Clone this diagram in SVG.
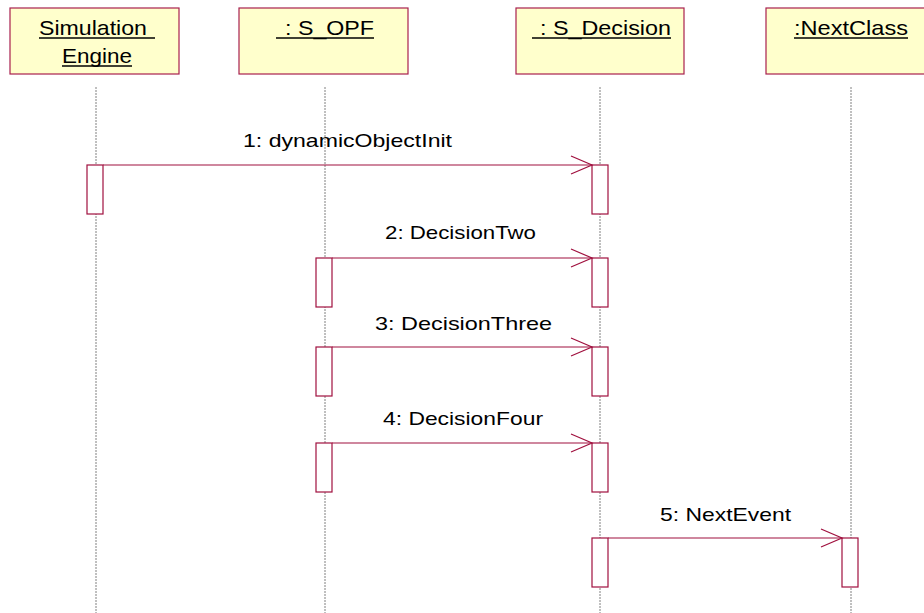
<svg xmlns="http://www.w3.org/2000/svg" width="924" height="613" viewBox="0 0 924 613">
<style>
.obj{fill:#FFFFCC;stroke:#A8204E;stroke-width:1.2}
.t{font-family:"Liberation Sans",Arial,sans-serif;font-size:19px;fill:#000}
.h{font-size:21px}
.ul{stroke:#000;stroke-width:1.5}
.life{stroke:#808080;stroke-width:1;stroke-dasharray:2,1}
.act{fill:#fff;stroke:#A0103E;stroke-width:1.2}
.msg{stroke:#A0103E;stroke-width:1.2;fill:none}
</style>
<rect width="924" height="613" fill="#fff"/>
<g id="lifelines">
<line class="life" x1="96" y1="87" x2="96" y2="613"/>
<line class="life" x1="325" y1="87" x2="325" y2="613"/>
<line class="life" x1="600" y1="87" x2="600" y2="613"/>
<line class="life" x1="851" y1="87" x2="851" y2="613"/>
</g>
<g id="node-simulation-engine">
<rect class="obj" x="10" y="8" width="169" height="66"/>
<text class="t h" x="39" y="35" textLength="108" lengthAdjust="spacingAndGlyphs">Simulation</text>
<line class="ul" x1="39" y1="38" x2="155" y2="38"/>
<text class="t h" x="62" y="63" textLength="70" lengthAdjust="spacingAndGlyphs">Engine</text>
<line class="ul" x1="62" y1="66" x2="132" y2="66"/>
</g>
<g id="node-s-opf">
<rect class="obj" x="239" y="8" width="169" height="66"/>
<text class="t h" x="285" y="35" textLength="89" lengthAdjust="spacingAndGlyphs">: S_OPF</text>
<line class="ul" x1="276" y1="38" x2="374" y2="38"/>
</g>
<g id="node-s-decision">
<rect class="obj" x="516" y="8" width="168" height="66"/>
<text class="t h" x="540" y="35" textLength="131" lengthAdjust="spacingAndGlyphs">: S_Decision</text>
<line class="ul" x1="532" y1="38" x2="671" y2="38"/>
</g>
<g id="node-nextclass">
<rect class="obj" x="766" y="8" width="169" height="66"/>
<text class="t h" x="794" y="35" textLength="114" lengthAdjust="spacingAndGlyphs">:NextClass</text>
<line class="ul" x1="794" y1="38" x2="908" y2="38"/>
</g>
<g id="activations">
<rect class="act" x="87" y="165" width="16" height="49"/>
<rect class="act" x="592" y="165" width="16" height="49"/>
<rect class="act" x="316" y="258" width="16" height="49"/>
<rect class="act" x="592" y="258" width="16" height="49"/>
<rect class="act" x="316" y="347" width="16" height="49"/>
<rect class="act" x="592" y="347" width="16" height="49"/>
<rect class="act" x="316" y="443" width="16" height="49"/>
<rect class="act" x="592" y="443" width="16" height="49"/>
<rect class="act" x="592" y="538" width="16" height="49"/>
<rect class="act" x="842" y="538" width="16" height="49"/>
</g>
<g id="connectors">
<line class="msg" x1="103" y1="165" x2="592" y2="165"/>
<polyline class="msg" points="571,156 592,165 571,174"/>
<line class="msg" x1="332" y1="258" x2="592" y2="258"/>
<polyline class="msg" points="571,249 592,258 571,267"/>
<line class="msg" x1="332" y1="347" x2="592" y2="347"/>
<polyline class="msg" points="571,338 592,347 571,356"/>
<line class="msg" x1="332" y1="443" x2="592" y2="443"/>
<polyline class="msg" points="571,434 592,443 571,452"/>
<line class="msg" x1="608" y1="538" x2="842" y2="538"/>
<polyline class="msg" points="821,529 842,538 821,547"/>
</g>
<g id="labels">
<text class="t" x="243" y="147" textLength="209" lengthAdjust="spacingAndGlyphs">1: dynamicObjectInit</text>
<text class="t" x="385" y="239" textLength="151" lengthAdjust="spacingAndGlyphs">2: DecisionTwo</text>
<text class="t" x="375" y="330" textLength="177" lengthAdjust="spacingAndGlyphs">3: DecisionThree</text>
<text class="t" x="383" y="425" textLength="160" lengthAdjust="spacingAndGlyphs">4: DecisionFour</text>
<text class="t" x="660" y="521" textLength="131" lengthAdjust="spacingAndGlyphs">5: NextEvent</text>
</g>
</svg>
